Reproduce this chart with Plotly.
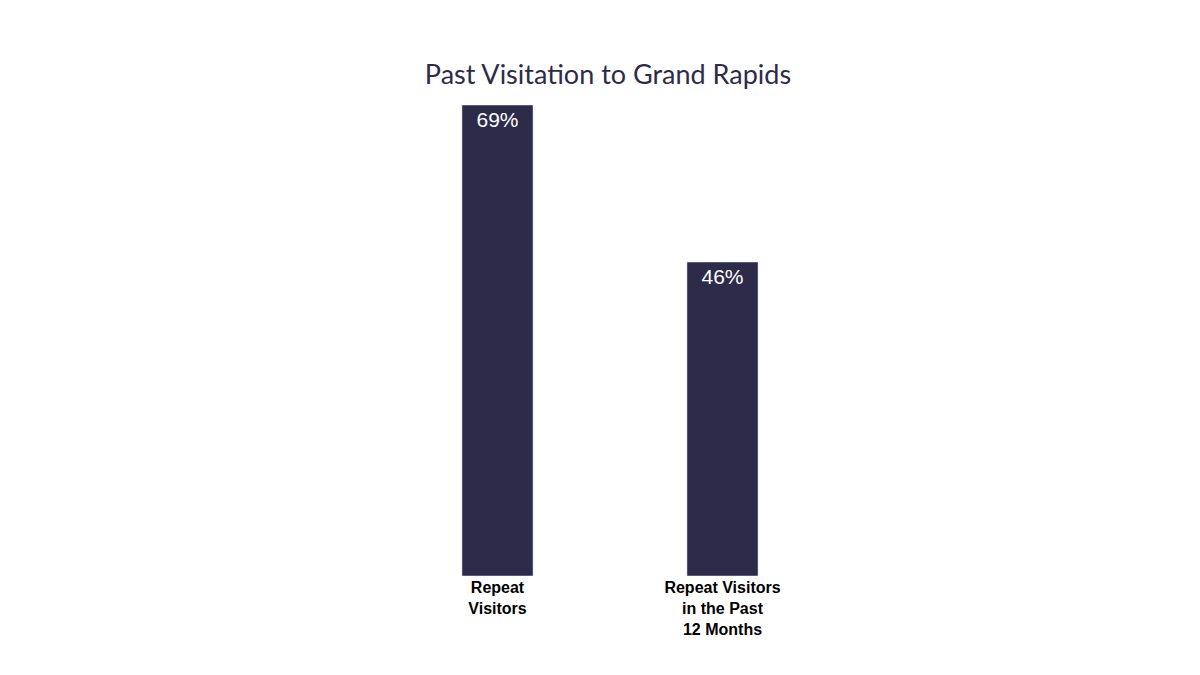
import plotly.graph_objects as go

categories = ["Repeat<br>Visitors", "Repeat Visitors<br>in the Past<br>12 Months"]
values = [69, 46]
labels = ["69%", "46%"]

navy = "#2e2b4a"

fig = go.Figure()
fig.add_trace(go.Bar(
    x=categories,
    y=values,
    text=labels,
    textposition="inside",
    insidetextanchor="end",
    textfont=dict(family="Liberation Sans Narrow, Arial Narrow, sans-serif", size=21, color="white"),
    marker_color=navy,
    width=0.316,
))

fig.update_layout(
    width=1200, height=675,
    paper_bgcolor="white", plot_bgcolor="white",
    margin=dict(l=377, r=373, t=97, b=107),
    title=dict(text="Past Visitation to Grand Rapids", x=0.5, xanchor="center", y=0.915,
               font=dict(family="Lato, sans-serif", size=27, color=navy)),
    showlegend=False,
    xaxis=dict(showline=False, ticks="", tickfont=dict(family="Liberation Sans Narrow, Arial Narrow, sans-serif",
                                                       size=16, color="black", weight="bold")),
    yaxis=dict(range=[0, 69], visible=False, showgrid=False),
)

fig.write_html("out.html")
